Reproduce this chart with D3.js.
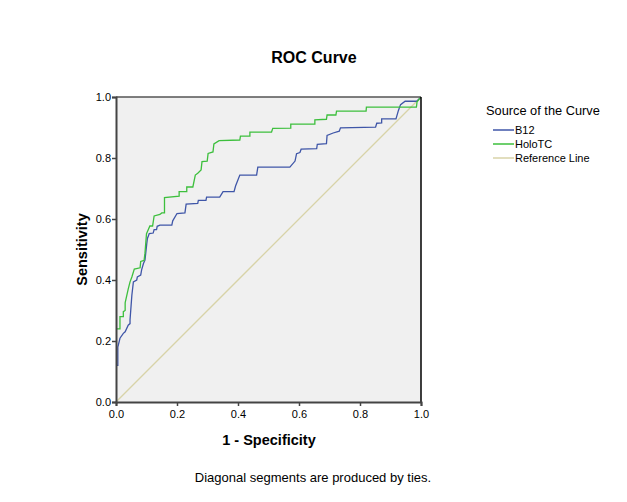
<!DOCTYPE html>
<html><head><meta charset="utf-8">
<script src="https://cdn.jsdelivr.net/npm/d3@7"></script>
<style>body{margin:0;background:#fff;}svg{display:block;font-family:"Liberation Sans",Arial,sans-serif;}</style>
</head><body><svg id="c" width="627" height="502"></svg>
<script>
const xTicks = [0, 0.2, 0.4, 0.6, 0.8, 1.0];
const yTicks = [0, 0.2, 0.4, 0.6, 0.8, 1.0];
const tickLabels = ["0.0", "0.2", "0.4", "0.6", "0.8", "1.0"];
const seriesNames = ["B12", "HoloTC", "Reference Line"];
const b12Fpr = [0,0,0.006,0.006,0.013,0.024,0.03,0.04,0.046,0.046,0.052,0.057,0.068,0.07,0.081,0.084,0.09,0.095,0.101,0.103,0.109,0.122,0.125,0.133,0.135,0.144,0.183,0.186,0.2,0.226,0.23,0.268,0.27,0.295,0.297,0.34,0.351,0.387,0.392,0.406,0.461,0.465,0.57,0.587,0.592,0.603,0.607,0.658,0.66,0.69,0.692,0.712,0.732,0.736,0.851,0.855,0.871,0.871,0.918,0.926,0.933,0.948,0.986,0.997,1];
const b12Tpr = [0,0.12,0.12,0.18,0.209,0.225,0.23,0.252,0.257,0.269,0.35,0.394,0.4,0.41,0.416,0.433,0.454,0.465,0.52,0.536,0.552,0.554,0.565,0.565,0.576,0.58,0.58,0.594,0.618,0.62,0.649,0.651,0.661,0.661,0.672,0.672,0.69,0.69,0.708,0.744,0.744,0.77,0.77,0.79,0.814,0.818,0.829,0.831,0.845,0.847,0.874,0.882,0.888,0.899,0.901,0.914,0.915,0.928,0.928,0.956,0.975,0.986,0.986,0.997,1];
const holoFpr = [0,0,0.013,0.013,0.024,0.024,0.03,0.03,0.04,0.046,0.052,0.06,0.079,0.081,0.092,0.095,0.1,0.105,0.111,0.12,0.125,0.144,0.15,0.159,0.159,0.207,0.207,0.232,0.232,0.252,0.26,0.268,0.279,0.282,0.299,0.302,0.318,0.321,0.338,0.406,0.408,0.439,0.439,0.51,0.514,0.573,0.573,0.652,0.652,0.69,0.692,0.721,0.723,0.82,0.821,0.985,0.987,1];
const holoTpr = [0,0.24,0.24,0.28,0.28,0.296,0.3,0.325,0.37,0.394,0.41,0.436,0.44,0.461,0.464,0.488,0.552,0.563,0.577,0.577,0.61,0.615,0.62,0.62,0.67,0.675,0.69,0.69,0.705,0.705,0.744,0.75,0.761,0.788,0.79,0.815,0.82,0.846,0.857,0.859,0.872,0.872,0.885,0.885,0.897,0.898,0.911,0.911,0.925,0.927,0.941,0.941,0.954,0.954,0.967,0.967,0.984,1];
const refFpr = [0, 1];
const refTpr = [0, 1];
const colors = ["#3f56a8", "#3dbf3d", "#d8d3a8"];

const svg = d3.select("#c");
const x = d3.scaleLinear().domain([0,1]).range([116, 421]);
const y = d3.scaleLinear().domain([0,1]).range([402, 97]);

svg.append("rect").attr("x", x(0)).attr("y", y(1)).attr("width", x(1)-x(0)).attr("height", y(0)-y(1)).attr("fill", "#f0f0f0");

const line = d3.line().x(d => x(d[0])).y(d => y(d[1]));
const series = [
  d3.zip(b12Fpr, b12Tpr),
  d3.zip(holoFpr, holoTpr),
  d3.zip(refFpr, refTpr)
];
svg.append("defs").append("clipPath").attr("id","pc").append("rect")
  .attr("x", x(0)).attr("y", y(1)).attr("width", x(1)-x(0)).attr("height", y(0)-y(1));
const g = svg.append("g").attr("clip-path","url(#pc)");
[2,0,1].forEach(i => {
  g.append("path").attr("d", line(series[i])).attr("fill","none")
   .attr("stroke", colors[i]).attr("stroke-width", 1.3);
});

// frame
svg.append("line").attr("x1", x(0)).attr("x2", x(1)).attr("y1", y(1)).attr("y2", y(1)).attr("stroke","#555").attr("stroke-width",1.5);
svg.append("line").attr("x1", x(1)).attr("x2", x(1)).attr("y1", y(1)).attr("y2", y(0)).attr("stroke","#000").attr("stroke-width",1.5);

const xAxis = svg.append("g").attr("transform", `translate(0,${y(0)})`)
  .call(d3.axisBottom(x).tickValues(xTicks).tickFormat((d,i)=>tickLabels[i]).tickSizeOuter(0).tickSize(4));
const yAxis = svg.append("g").attr("transform", `translate(${x(0)},0)`)
  .call(d3.axisLeft(y).tickValues(yTicks).tickFormat((d,i)=>tickLabels[i]).tickSizeOuter(0).tickSize(4));
[xAxis, yAxis].forEach(a => {
  a.select(".domain").attr("stroke","#444").attr("stroke-width",2);
  a.selectAll(".tick line").attr("stroke","#444").attr("stroke-width",1.5);
  a.selectAll("text").attr("fill","#000").style("font-size","11px").style("font-family","'Liberation Sans',Arial,sans-serif");
});
xAxis.selectAll("text").attr("dy","0.71em").attr("y", 8);
yAxis.selectAll("text").attr("x", -5);

svg.append("text").attr("x", 314).attr("y", 63).attr("text-anchor","middle")
  .style("font-size","16px").style("font-weight","bold").text("ROC Curve");
svg.append("text").attr("x", 269).attr("y", 445).attr("text-anchor","middle")
  .style("font-size","14.5px").style("font-weight","bold").text("1 - Specificity");
svg.append("text").attr("transform", `translate(87,${(y(0)+y(1))/2}) rotate(-90)`).attr("text-anchor","middle")
  .style("font-size","14.5px").style("font-weight","bold").text("Sensitivity");
svg.append("text").attr("x", 313).attr("y", 482).attr("text-anchor","middle")
  .style("font-size","13px").text("Diagonal segments are produced by ties.");

svg.append("text").attr("x", 486).attr("y", 115).style("font-size","12.8px").text("Source of the Curve");
seriesNames.forEach((n,i) => {
  const yy = 130 + i*14;
  svg.append("line").attr("x1", 493).attr("x2", 514).attr("y1", yy).attr("y2", yy).attr("stroke", colors[i]).attr("stroke-width",1.5);
  svg.append("text").attr("x", 515).attr("y", yy+4).style("font-size","11px").text(n);
});
</script></body></html>
